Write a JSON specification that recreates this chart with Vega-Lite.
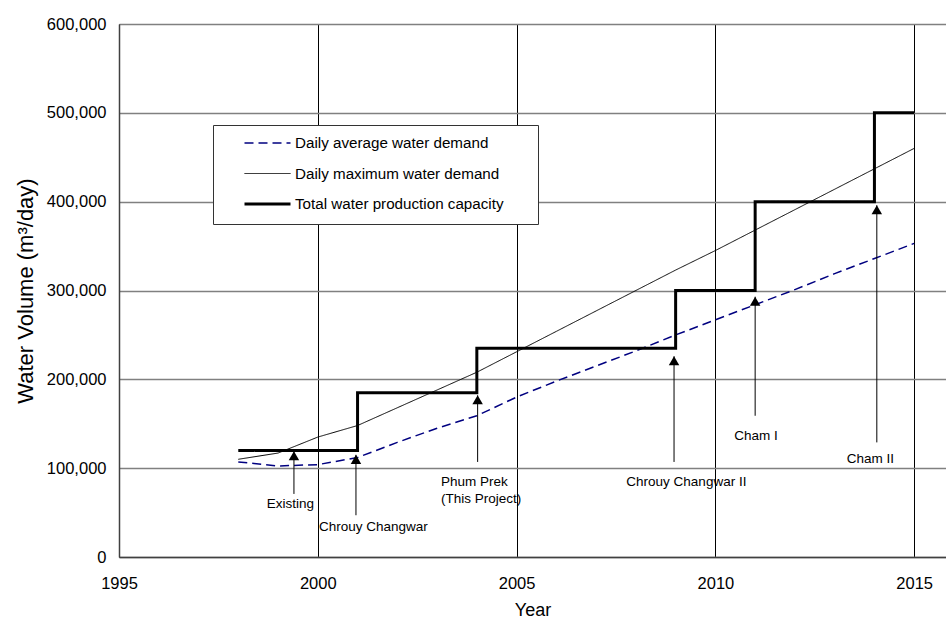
{
  "$schema": "https://vega.github.io/schema/vega-lite/v6.json",
  "width": 827,
  "height": 533,
  "autosize": {"type": "none"},
  "padding": {"left": 119, "top": 24, "right": 0, "bottom": 60},
  "background": "white",
  "config": {
    "view": {"stroke": null},
    "font": "Liberation Sans, Arial, sans-serif",
    "text": {"font": "Liberation Sans, Arial, sans-serif"}
  },
  "datasets": {
    "demand": [
      {"series": "Daily average water demand", "year": 1998, "value": 107000},
      {"series": "Daily average water demand", "year": 1999, "value": 102500},
      {"series": "Daily average water demand", "year": 2000, "value": 104000},
      {"series": "Daily average water demand", "year": 2001, "value": 112000},
      {"series": "Daily average water demand", "year": 2002, "value": 129000},
      {"series": "Daily average water demand", "year": 2003, "value": 145000},
      {"series": "Daily average water demand", "year": 2004, "value": 159000},
      {"series": "Daily average water demand", "year": 2005, "value": 180000},
      {"series": "Daily average water demand", "year": 2006, "value": 198000},
      {"series": "Daily average water demand", "year": 2007, "value": 215000},
      {"series": "Daily average water demand", "year": 2008, "value": 232000},
      {"series": "Daily average water demand", "year": 2009, "value": 250000},
      {"series": "Daily average water demand", "year": 2010, "value": 267000},
      {"series": "Daily average water demand", "year": 2011, "value": 284000},
      {"series": "Daily average water demand", "year": 2012, "value": 301000},
      {"series": "Daily average water demand", "year": 2013, "value": 319000},
      {"series": "Daily average water demand", "year": 2014, "value": 336000},
      {"series": "Daily average water demand", "year": 2015, "value": 353000},
      {"series": "Daily maximum water demand", "year": 1998, "value": 110000},
      {"series": "Daily maximum water demand", "year": 1999, "value": 117000},
      {"series": "Daily maximum water demand", "year": 2000, "value": 135000},
      {"series": "Daily maximum water demand", "year": 2001, "value": 148000},
      {"series": "Daily maximum water demand", "year": 2002, "value": 168000},
      {"series": "Daily maximum water demand", "year": 2003, "value": 188000},
      {"series": "Daily maximum water demand", "year": 2004, "value": 208000},
      {"series": "Daily maximum water demand", "year": 2005, "value": 231000},
      {"series": "Daily maximum water demand", "year": 2006, "value": 254000},
      {"series": "Daily maximum water demand", "year": 2007, "value": 277000},
      {"series": "Daily maximum water demand", "year": 2008, "value": 300000},
      {"series": "Daily maximum water demand", "year": 2009, "value": 323000},
      {"series": "Daily maximum water demand", "year": 2010, "value": 345000},
      {"series": "Daily maximum water demand", "year": 2011, "value": 368000},
      {"series": "Daily maximum water demand", "year": 2012, "value": 391000},
      {"series": "Daily maximum water demand", "year": 2013, "value": 414000},
      {"series": "Daily maximum water demand", "year": 2014, "value": 437000},
      {"series": "Daily maximum water demand", "year": 2015, "value": 460000}
    ],
    "capacity": [
      {"series": "Total water production capacity", "year": 1998, "value": 120000},
      {"series": "Total water production capacity", "year": 2001, "value": 185000},
      {"series": "Total water production capacity", "year": 2004, "value": 235000},
      {"series": "Total water production capacity", "year": 2009, "value": 300000},
      {"series": "Total water production capacity", "year": 2011, "value": 400000},
      {"series": "Total water production capacity", "year": 2014, "value": 500000},
      {"series": "Total water production capacity", "year": 2015, "value": 500000}
    ],
    "arrows": [
      {"name": "Existing", "year": 1999.4, "top": 119000, "bottom": 71000},
      {"name": "Chrouy Changwar", "year": 2000.96, "top": 115000, "bottom": 47000},
      {"name": "Phum Prek", "year": 2004.02, "top": 182000, "bottom": 107000},
      {"name": "Chrouy Changwar II", "year": 2008.96, "top": 226000, "bottom": 107000},
      {"name": "Cham I", "year": 2011.0, "top": 293000, "bottom": 159000},
      {"name": "Cham II", "year": 2014.06, "top": 396000, "bottom": 129000}
    ],
    "labels": [
      {"text": "Existing", "year": 1999.31, "value": 59700},
      {"text": "Chrouy Changwar", "year": 2001.4, "value": 34000},
      {"text": "Chrouy Changwar II", "year": 2009.27, "value": 84000},
      {"text": "Cham I", "year": 2011.02, "value": 136000},
      {"text": "Cham II", "year": 2013.9, "value": 110000}
    ],
    "labelsLeft": [
      {"text": "Phum Prek", "year": 2003.1, "value": 84800},
      {"text": "(This Project)", "year": 2003.1, "value": 65000}
    ]
  },
  "layer": [
    {
      "data": {"name": "demand"},
      "mark": {"type": "line", "interpolate": "linear"},
      "encoding": {
        "x": {"field": "year", "type": "quantitative", "title": "Year",
          "scale": {"domain": [1995, 2015.8], "nice": false, "zero": false},
          "axis": {"values": [1995, 2000, 2005, 2010, 2015], "format": "d", "grid": true, "gridColor": "#000000", "gridWidth": 1, "ticks": false, "tickSize": 0, "labelPadding": 18, "labelFontSize": 16.5, "labelColor": "#000000", "labelFont": "Liberation Sans", "titleFont": "Liberation Sans", "titleFontSize": 18, "titleFontWeight": "normal", "titleColor": "#000000", "titlePadding": 10, "domainColor": "#404040", "domainWidth": 1.5, "labelFlush": false, "labelOverlap": false}},
        "y": {"field": "value", "type": "quantitative", "title": "Water Volume (m³/day)",
          "scale": {"domain": [0, 600000], "nice": false},
          "axis": {"values": [0, 100000, 200000, 300000, 400000, 500000, 600000], "format": ",d", "grid": true, "gridColor": "#808080", "gridWidth": 1.3, "ticks": false, "tickSize": 0, "labelPadding": 13, "labelFontSize": 16.5, "labelColor": "#000000", "labelFont": "Liberation Sans", "titleFont": "Liberation Sans", "titleFontSize": 22, "titleFontWeight": "normal", "titleColor": "#000000", "titlePadding": 9, "domainColor": "#404040", "domainWidth": 1.5, "labelFlush": false, "labelOverlap": false}},
        "color": {"field": "series", "type": "nominal",
          "scale": {"domain": ["Daily average water demand", "Daily maximum water demand", "Total water production capacity"], "range": ["#000080", "#000000", "#000000"]},
          "legend": {"orient": "none", "legendX": 94, "legendY": 101, "title": null, "symbolType": "stroke", "symbolSize": 2116, "clipHeight": 13, "rowPadding": 14.5, "padding": 11.5, "symbolOffset": 18.5, "labelOffset": 3, "labelFontSize": 15.2, "labelFont": "Liberation Sans", "labelColor": "#000000", "labelLimit": 400, "strokeColor": "#333333", "fillColor": "#ffffff", "labelExpr": "datum.label + '\u2800\u2800'"}},
        "strokeDash": {"field": "series", "type": "nominal",
          "scale": {"domain": ["Daily average water demand", "Daily maximum water demand", "Total water production capacity"], "range": [[9, 5], [1, 0], [1, 0]]},
          "legend": {"orient": "none", "legendX": 94, "legendY": 101, "title": null, "symbolType": "stroke", "symbolSize": 2116, "clipHeight": 13, "rowPadding": 14.5, "padding": 11.5, "symbolOffset": 18.5, "labelOffset": 3, "labelFontSize": 15.2, "labelFont": "Liberation Sans", "labelColor": "#000000", "labelLimit": 400, "strokeColor": "#333333", "fillColor": "#ffffff", "labelExpr": "datum.label + '\u2800\u2800'"}},
        "strokeWidth": {"field": "series", "type": "nominal",
          "scale": {"type": "ordinal", "domain": ["Daily average water demand", "Daily maximum water demand", "Total water production capacity"], "range": [1.5, 1, 3]},
          "legend": {"orient": "none", "legendX": 94, "legendY": 101, "title": null, "symbolType": "stroke", "symbolSize": 2116, "clipHeight": 13, "rowPadding": 14.5, "padding": 11.5, "symbolOffset": 18.5, "labelOffset": 3, "labelFontSize": 15.2, "labelFont": "Liberation Sans", "labelColor": "#000000", "labelLimit": 400, "strokeColor": "#333333", "fillColor": "#ffffff", "labelExpr": "datum.label + '\u2800\u2800'"}}
      }
    },
    {
      "data": {"name": "capacity"},
      "mark": {"type": "line", "interpolate": "step-after"},
      "encoding": {
        "x": {"field": "year", "type": "quantitative", "title": "Year", "scale": {"domain": [1995, 2015.8], "nice": false, "zero": false}},
        "y": {"field": "value", "type": "quantitative", "title": "Water Volume (m³/day)", "scale": {"domain": [0, 600000], "nice": false}},
        "color": {"field": "series", "type": "nominal"},
        "strokeDash": {"field": "series", "type": "nominal"},
        "strokeWidth": {"field": "series", "type": "nominal", "scale": {"type": "ordinal", "domain": ["Daily average water demand", "Daily maximum water demand", "Total water production capacity"], "range": [1.5, 1, 3]}}
      }
    },
    {
      "data": {"name": "arrows"},
      "mark": {"type": "rule", "color": "#000000", "strokeWidth": 1},
      "encoding": {
        "x": {"field": "year", "type": "quantitative", "title": "Year"},
        "y": {"field": "bottom", "type": "quantitative", "title": "Water Volume (m³/day)"},
        "y2": {"field": "top"}
      }
    },
    {
      "data": {"name": "arrows"},
      "mark": {"type": "point", "shape": "triangle-up", "filled": true, "color": "#000000", "size": 110, "opacity": 1, "yOffset": 4.5},
      "encoding": {
        "x": {"field": "year", "type": "quantitative", "title": "Year"},
        "y": {"field": "top", "type": "quantitative", "title": "Water Volume (m³/day)"}
      }
    },
    {
      "data": {"name": "labels"},
      "mark": {"type": "text", "align": "center", "baseline": "middle", "fontSize": 13.5, "color": "#000000", "font": "Liberation Sans"},
      "encoding": {
        "x": {"field": "year", "type": "quantitative", "title": "Year"},
        "y": {"field": "value", "type": "quantitative", "title": "Water Volume (m³/day)"},
        "text": {"field": "text"}
      }
    },
    {
      "data": {"name": "labelsLeft"},
      "mark": {"type": "text", "align": "left", "baseline": "middle", "fontSize": 13.5, "color": "#000000", "font": "Liberation Sans"},
      "encoding": {
        "x": {"field": "year", "type": "quantitative", "title": "Year"},
        "y": {"field": "value", "type": "quantitative", "title": "Water Volume (m³/day)"},
        "text": {"field": "text"}
      }
    }
  ]
}
